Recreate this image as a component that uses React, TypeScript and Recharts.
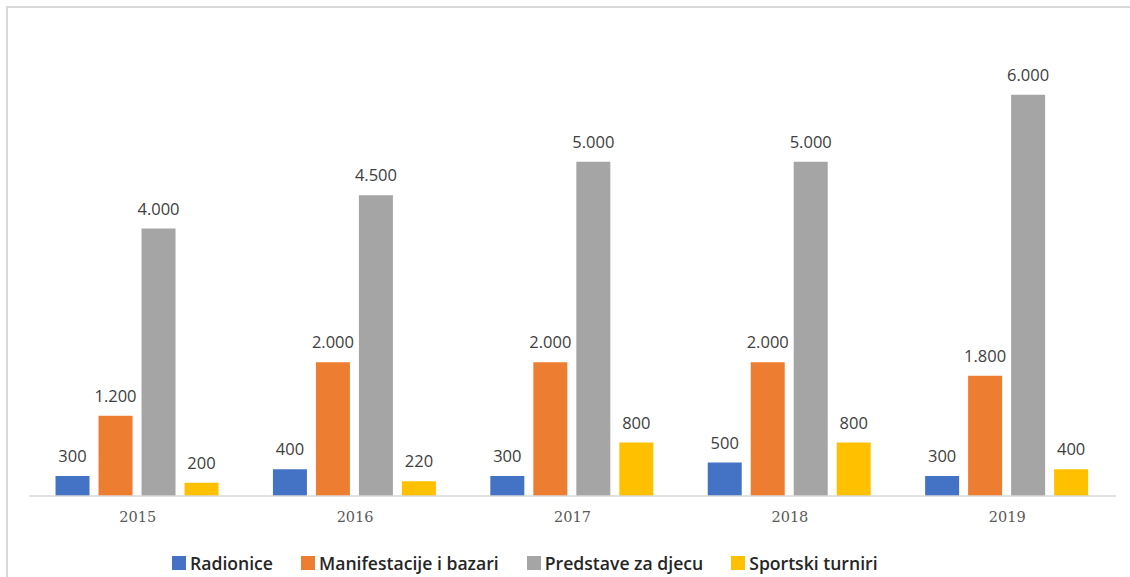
import type { FC } from "react";
import { BarChart, Bar, XAxis, YAxis, Legend, LabelList } from "recharts";

// === 데이터 ===
const years = ["2015", "2016", "2017", "2018", "2019"];
const radionice = [300, 400, 300, 500, 300];
const manifestacije = [1200, 2000, 2000, 2000, 1800];
const predstave = [4000, 4500, 5000, 5000, 6000];
const sportski = [200, 220, 800, 800, 400];

const SERIES = [
  { key: "radionice", name: "Radionice", color: "#4472C4" },
  { key: "manifestacije", name: "Manifestacije i bazari", color: "#ED7D31" },
  { key: "predstave", name: "Predstave za djecu", color: "#A5A5A5" },
  { key: "sportski", name: "Sportski turniri", color: "#FFC000" },
];

const chartData = years.map((year, i) => ({
  year,
  radionice: radionice[i],
  manifestacije: manifestacije[i],
  predstave: predstave[i],
  sportski: sportski[i],
}));

// 천 단위 구분자 "." 사용
function formatValue(v: number): string {
  return String(v).replace(/\B(?=(\d{3})+(?!\d))/g, ".");
}

const LegendContent: FC = () => (
  <div
    style={{
      display: "flex",
      alignItems: "center",
      height: 24,
      paddingLeft: 172,
      fontFamily: "'Open Sans', sans-serif",
      fontWeight: 600,
      fontSize: 17.6,
      color: "#262626",
    }}
  >
    {SERIES.map((s) => (
      <div key={s.key} style={{ display: "flex", alignItems: "center", marginRight: 28 }}>
        <span style={{ width: 14, height: 14, background: s.color, marginRight: 4 }} />
        <span>{s.name}</span>
      </div>
    ))}
  </div>
);

const App: FC = () => {
  return (
    <div style={{ position: "absolute", left: 0, top: 0, width: 1130, height: 577, overflow: "hidden", background: "#fff" }}>
      {/* 외곽 프레임 */}
      <div
        style={{
          position: "absolute",
          left: 6,
          top: 6,
          width: 1140,
          height: 600,
          borderLeft: "2px solid #D9D9D9",
          borderTop: "2px solid #D9D9D9",
        }}
      />
      <BarChart
        width={1130}
        height={577}
        data={chartData}
        margin={{ top: 28, right: 14, left: 29, bottom: 27 }}
        barGap={9}
        barCategoryGap="12.2%"
        style={{ position: "absolute", left: 0, top: 0 }}
      >
        <XAxis
          dataKey="year"
          height={30}
          axisLine={{ stroke: "#D9D9D9", strokeWidth: 1.5 }}
          tickLine={false}
          tickMargin={10}
          tick={{ fontFamily: "'DejaVu Serif', serif", fontSize: 14.5, fill: "#595959" }}
        />
        <YAxis hide domain={[0, 7000]} />
        <Legend
          verticalAlign="bottom"
          content={() => <LegendContent />}
          wrapperStyle={{ left: 0, width: 1130, bottom: 2 }}
        />
        {SERIES.map((s) => (
          <Bar key={s.key} dataKey={s.key} name={s.name} fill={s.color} isAnimationActive={false}>
            <LabelList
              dataKey={s.key}
              position="top"
              offset={14}
              formatter={(v: number) => formatValue(v)}
              style={{ fontFamily: "'Open Sans', sans-serif", fontSize: 16.5, fill: "#404040" }}
            />
          </Bar>
        ))}
      </BarChart>
    </div>
  );
};

export default App;
